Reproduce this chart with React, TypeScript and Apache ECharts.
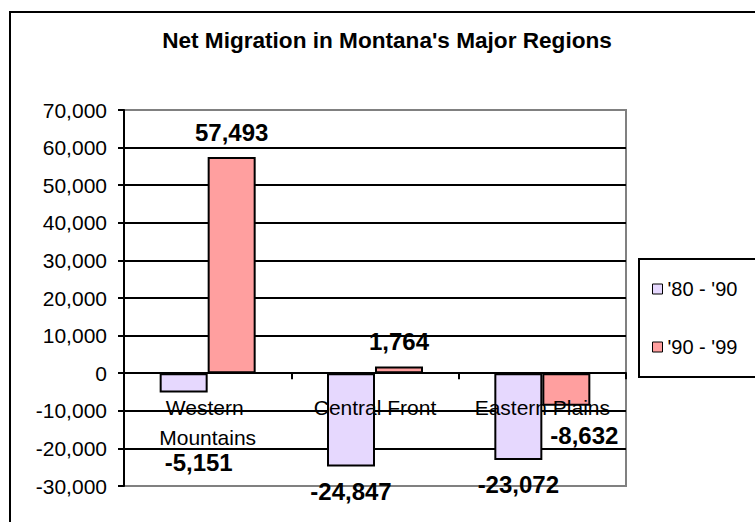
import React, { useEffect, useRef } from "react";
import * as echarts from "echarts";

// Net migration by region, two decades
const regions = ["Western Mountains", "Central Front", "Eastern Plains"];
const periodNames = ["'80 - '90", "'90 - '99"];
const migration80s = [-5151, -24847, -23072];
const migration90s = [57493, 1764, -8632];
const axisMin = -30000;
const axisMax = 70000;
const axisStep = 10000;

// Hand-placed nudges for a few value labels (pixels)
const labelNudge80s = [[15, 45], [0, 0], [0, 0]];
const labelNudge90s = [[0, 0], [0, 0], [18, 5]];

const FONT = "'Liberation Sans', Arial, Helvetica, sans-serif";
const fmt = (v: number) => v.toLocaleString("en-US");

const buildData = (values: number[], nudges: number[][]) =>
  values.map((v, i) => ({
    value: v,
    label: {
      position: v >= 0 ? "top" : "bottom",
      offset: nudges[i],
    },
  }));

export default function App() {
  const ref = useRef<HTMLDivElement>(null);

  useEffect(() => {
    if (!ref.current) return;
    const chart = echarts.init(ref.current, null, { renderer: "svg" });

    const barLabel = {
      show: true,
      distance: 13,
      color: "#000",
      fontFamily: FONT,
      fontSize: 24,
      fontWeight: "bold" as const,
      formatter: (p: any) => fmt(p.value),
    };

    chart.setOption({
      animation: false,
      backgroundColor: "#fff",
      textStyle: { fontFamily: FONT },
      graphic: [
        {
          type: "rect",
          shape: { x: 10, y: 12, width: 800, height: 600 },
          style: { fill: "none", stroke: "#000", lineWidth: 2 },
          silent: true,
          z: 10,
        },
        {
          type: "text",
          x: 387,
          y: 40,
          style: {
            text: "Net Migration in Montana's Major Regions",
            align: "center",
            verticalAlign: "middle",
            fontFamily: FONT,
            fontSize: 22.6,
            fontWeight: "bold",
            fill: "#000",
          },
        },
      ],
      legend: {
        orient: "vertical",
        left: 639,
        top: 259,
        padding: [20, 60, 20, 13],
        itemGap: 38,
        itemWidth: 10,
        itemHeight: 10,
        icon: "rect",
        borderColor: "#000",
        borderWidth: 2,
        itemStyle: { borderColor: "#000", borderWidth: 1 },
        textStyle: { color: "#000", fontFamily: FONT, fontSize: 20 },
        data: periodNames,
      },
      grid: {
        left: 124,
        right: 129,
        top: 110,
        bottom: 36,
        show: true,
        borderColor: "#808080",
        borderWidth: 2,
        containLabel: false,
        outerBoundsMode: "none",
      },
      xAxis: {
        type: "category",
        data: regions,
        z: 3,
        axisLine: { onZero: true, lineStyle: { color: "#000", width: 2 } },
        axisTick: { show: true, length: 6, lineStyle: { color: "#000", width: 2 } },
        axisLabel: {
          color: "#000",
          fontFamily: FONT,
          fontSize: 21,
          lineHeight: 30,
          // labels sit just under the zero line, well above the grid's bottom edge
          margin: -94,
          width: 150,
          overflow: "break",
          interval: 0,
        },
        splitLine: { show: false },
      },
      yAxis: {
        type: "value",
        min: axisMin,
        max: axisMax,
        interval: axisStep,
        axisLine: { show: true, lineStyle: { color: "#000", width: 2 } },
        axisTick: { show: true, length: 6, lineStyle: { color: "#000", width: 2 } },
        axisLabel: {
          color: "#000",
          fontFamily: FONT,
          fontSize: 21,
          margin: 17,
          formatter: (v: number) => fmt(v),
        },
        splitLine: {
          show: true,
          showMinLine: false,
          showMaxLine: false,
          lineStyle: { color: "#000", width: 2 },
        },
      },
      series: [
        {
          name: periodNames[0],
          type: "bar",
          barWidth: 48,
          barGap: "0%",
          data: buildData(migration80s, labelNudge80s),
          itemStyle: { color: "#E6D8FE", borderColor: "#000", borderWidth: 2 },
          label: barLabel,
        },
        {
          name: periodNames[1],
          type: "bar",
          barWidth: 48,
          barGap: "0%",
          data: buildData(migration90s, labelNudge90s),
          itemStyle: { color: "#FF9F9F", borderColor: "#000", borderWidth: 2 },
          label: barLabel,
        },
      ],
    });

    return () => chart.dispose();
  }, []);

  return (
    <div
      style={{
        position: "fixed",
        left: 0,
        top: 0,
        width: 755,
        height: 522,
        overflow: "hidden",
        background: "#fff",
      }}
    >
      <div ref={ref} style={{ width: 755, height: 522 }} />
    </div>
  );
}
